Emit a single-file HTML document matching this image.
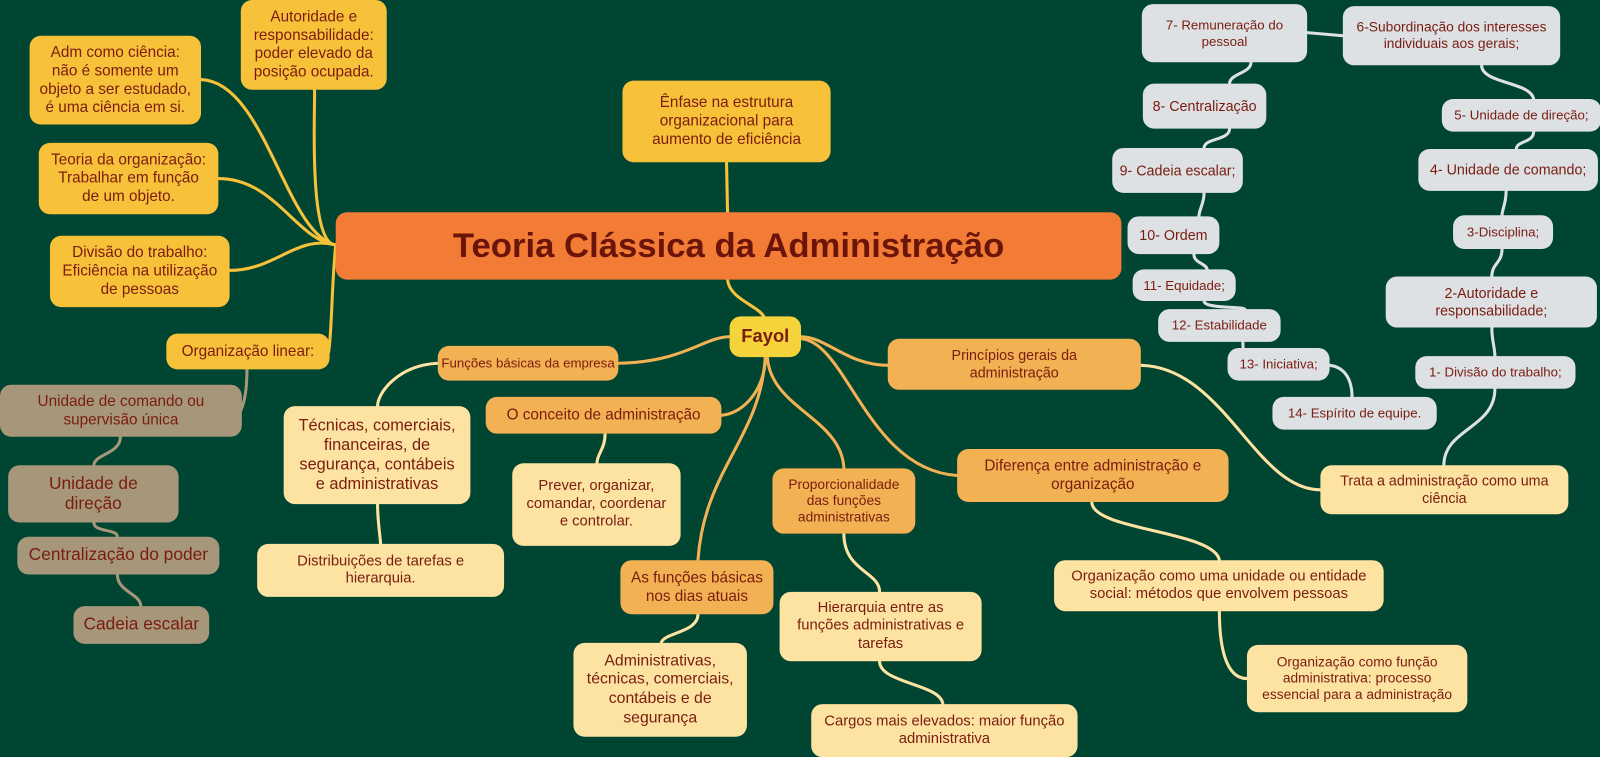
<!DOCTYPE html>
<html><head><meta charset="utf-8"><style>
html,body{margin:0;padding:0;background:#004432;overflow:hidden;width:1600px;height:756px}
#w{position:absolute;left:0;top:0;width:1568px;height:741px;transform:scale(1.0204);transform-origin:0 0}
.n{position:absolute;box-sizing:border-box;border-radius:11px;display:flex;align-items:center;justify-content:center;text-align:center;color:#7a1c10;font-family:"Liberation Sans",sans-serif;font-size:14.5px;line-height:1.2;padding:2px 2px;white-space:nowrap}
.y{background:#f8c13a}.o{background:#f2b152}.l{background:#fde3a1}.g{background:#dde1e4;font-size:13px}.t{background:#a6977a}
svg{position:absolute;left:0;top:0}
</style></head><body><div id="w">
<svg width="1568" height="741" fill="none" stroke-linecap="round">
<g stroke="#f8c13a" stroke-width="3">
<path d="M329 240 C300 240 310 88 308 88"/>
<path d="M329 240 C280 230 260 80 197 78"/>
<path d="M329 240 C290 235 270 175 214 175"/>
<path d="M329 240 C290 230 270 265 225 265"/>
<path d="M329 240 C325 280 325 330 322 345"/>
<path d="M713 208 L712 159"/>
<path d="M713 274 C715 295 748 300 750 314"/>
</g>
<g stroke="#a6977a" stroke-width="3">
<path d="M242 362 C242 380 240 395 235 404"/>
<path d="M118 428 C118 445 92 445 92 456"/>
<path d="M92 512 C92 522 115 518 115 526"/>
<path d="M115 563 C115 580 138 582 138 594"/>
</g>
<g stroke="#f2b152" stroke-width="3">
<path d="M715 330 C690 330 670 355 606 356"/>
<path d="M750 350 C750 380 730 405 707 407"/>
<path d="M750 350 C745 430 690 460 684 549"/>
<path d="M752 350 C755 400 825 410 827 459"/>
<path d="M785 330 C810 330 830 358 870 358"/>
<path d="M785 332 C830 335 850 460 938 466"/>
</g>
<g stroke="#fde3a1" stroke-width="3">
<path d="M429 356 C390 358 370 385 370 398"/>
<path d="M370 494 C370 510 372 520 373 533"/>
<path d="M593 425 C593 440 585 445 585 454"/>
<path d="M684 602 C684 620 650 620 648 630"/>
<path d="M827 523 C827 560 862 560 862 580"/>
<path d="M862 648 C862 670 922 670 924 690"/>
<path d="M1118 358 C1200 360 1230 480 1294 480"/>
<path d="M1070 492 C1070 520 1190 520 1195 549"/>
<path d="M1195 599 C1195 630 1200 665 1222 665"/>
</g>
<g stroke="#dde1e4" stroke-width="3">
<path d="M1281 32 L1316 35"/>
<path d="M1226 61 C1226 72 1205 72 1205 82"/>
<path d="M1205 126 C1205 138 1180 135 1180 145"/>
<path d="M1180 189 C1180 200 1175 205 1175 212"/>
<path d="M1170 249 C1170 258 1182 258 1183 264"/>
<path d="M1180 295 C1180 303 1218 300 1220 303"/>
<path d="M1218 335 C1218 345 1220 355 1226 357"/>
<path d="M1303 358 C1320 360 1325 375 1325 389"/>
<path d="M1452 64 C1452 82 1500 80 1503 97"/>
<path d="M1503 129 C1503 140 1486 138 1486 146"/>
<path d="M1476 187 C1476 200 1472 205 1472 211"/>
<path d="M1472 244 C1472 258 1462 258 1462 271"/>
<path d="M1462 321 C1462 335 1465 340 1465 349"/>
<path d="M1465 381 C1465 420 1415 420 1415 456"/>
</g>
</svg>
<div class="n" style="left:329px;top:208px;width:770px;height:66px;background:#f27b35;font-size:34px;font-weight:bold;color:#6b1409">Teoria Clássica da Administração</div>
<div class="n y" style="left:610px;top:79px;width:204px;height:80px;font-size:15px">Ênfase na estrutura<br>organizacional para<br>aumento de eficiência</div>
<div class="n y" style="left:236px;top:0;width:143px;height:88px;font-size:15px">Autoridade e<br>responsabilidade:<br>poder elevado da<br>posição ocupada.</div>
<div class="n y" style="left:29px;top:35px;width:168px;height:87px;font-size:15px">Adm como ciência:<br>não é somente um<br>objeto a ser estudado,<br>é uma ciência em si.</div>
<div class="n y" style="left:38px;top:140px;width:176px;height:70px;font-size:15px">Teoria da organização:<br>Trabalhar em função<br>de um objeto.</div>
<div class="n y" style="left:49px;top:231px;width:176px;height:70px;font-size:15px">Divisão do trabalho:<br>Eficiência na utilização<br>de pessoas</div>
<div class="n y" style="left:163px;top:327px;width:160px;height:35px;font-size:15px">Organização linear:</div>
<div class="n t" style="left:0;top:377px;width:237px;height:51px;font-size:15px">Unidade de comando ou<br>supervisão única</div>
<div class="n t" style="left:8px;top:456px;width:167px;height:56px;font-size:17px">Unidade de<br>direção</div>
<div class="n t" style="left:17px;top:526px;width:198px;height:37px;font-size:17px">Centralização do poder</div>
<div class="n t" style="left:72px;top:594px;width:133px;height:37px;font-size:17px">Cadeia escalar</div>
<div class="n" style="left:715px;top:310px;width:70px;height:40px;background:#f4d33b;font-size:18px;font-weight:bold">Fayol</div>
<div class="n o" style="left:429px;top:339px;width:177px;height:34px;font-size:13px">Funções básicas da empresa</div>
<div class="n l" style="left:278px;top:398px;width:183px;height:96px;font-size:16px">Técnicas, comerciais,<br>financeiras, de<br>segurança, contábeis<br>e administrativas</div>
<div class="n l" style="left:252px;top:533px;width:242px;height:52px">Distribuições de tarefas e<br>hierarquia.</div>
<div class="n o" style="left:476px;top:389px;width:231px;height:36px;font-size:15px">O conceito de administração</div>
<div class="n l" style="left:502px;top:454px;width:165px;height:81px">Prever, organizar,<br>comandar, coordenar<br>e controlar.</div>
<div class="n o" style="left:608px;top:549px;width:150px;height:53px;font-size:15px">As funções básicas<br>nos dias atuais</div>
<div class="n l" style="left:562px;top:630px;width:170px;height:92px;font-size:15.5px">Administrativas,<br>técnicas, comerciais,<br>contábeis e de<br>segurança</div>
<div class="n o" style="left:757px;top:459px;width:140px;height:64px;font-size:13.5px">Proporcionalidade<br>das funções<br>administrativas</div>
<div class="n l" style="left:764px;top:580px;width:198px;height:68px">Hierarquia entre as<br>funções administrativas e<br>tarefas</div>
<div class="n l" style="left:795px;top:690px;width:261px;height:52px">Cargos mais elevados: maior função<br>administrativa</div>
<div class="n o" style="left:870px;top:332px;width:248px;height:50px;font-size:14px">Princípios gerais da<br>administração</div>
<div class="n o" style="left:938px;top:440px;width:266px;height:52px;font-size:15px">Diferença entre administração e<br>organização</div>
<div class="n l" style="left:1033px;top:549px;width:323px;height:50px">Organização como uma unidade ou entidade<br>social: métodos que envolvem pessoas</div>
<div class="n l" style="left:1222px;top:632px;width:216px;height:66px;font-size:13.5px">Organização como função<br>administrativa: processo<br>essencial para a administração</div>
<div class="n l" style="left:1294px;top:456px;width:243px;height:48px;font-size:14px">Trata a administração como uma<br>ciência</div>
<div class="n g" style="left:1119px;top:4px;width:162px;height:57px">7- Remuneração do<br>pessoal</div>
<div class="n g" style="left:1316px;top:6px;width:213px;height:58px;font-size:13.5px">6-Subordinação dos interesses<br>individuais aos gerais;</div>
<div class="n g" style="left:1120px;top:82px;width:121px;height:44px;font-size:14px">8- Centralização</div>
<div class="n g" style="left:1413px;top:97px;width:156px;height:32px">5- Unidade de direção;</div>
<div class="n g" style="left:1090px;top:145px;width:128px;height:44px;font-size:14px">9- Cadeia escalar;</div>
<div class="n g" style="left:1390px;top:146px;width:176px;height:41px;font-size:14px">4- Unidade de comando;</div>
<div class="n g" style="left:1105px;top:212px;width:90px;height:37px;font-size:14px">10- Ordem</div>
<div class="n g" style="left:1424px;top:211px;width:98px;height:33px">3-Disciplina;</div>
<div class="n g" style="left:1110px;top:264px;width:101px;height:31px">11- Equidade;</div>
<div class="n g" style="left:1358px;top:271px;width:207px;height:50px;font-size:14px">2-Autoridade e<br>responsabilidade;</div>
<div class="n g" style="left:1135px;top:303px;width:120px;height:32px">12- Estabilidade</div>
<div class="n g" style="left:1203px;top:341px;width:100px;height:32px">13- Iniciativa;</div>
<div class="n g" style="left:1387px;top:349px;width:157px;height:32px">1- Divisão do trabalho;</div>
<div class="n g" style="left:1247px;top:389px;width:161px;height:32px">14- Espírito de equipe.</div>
</div></body></html>
